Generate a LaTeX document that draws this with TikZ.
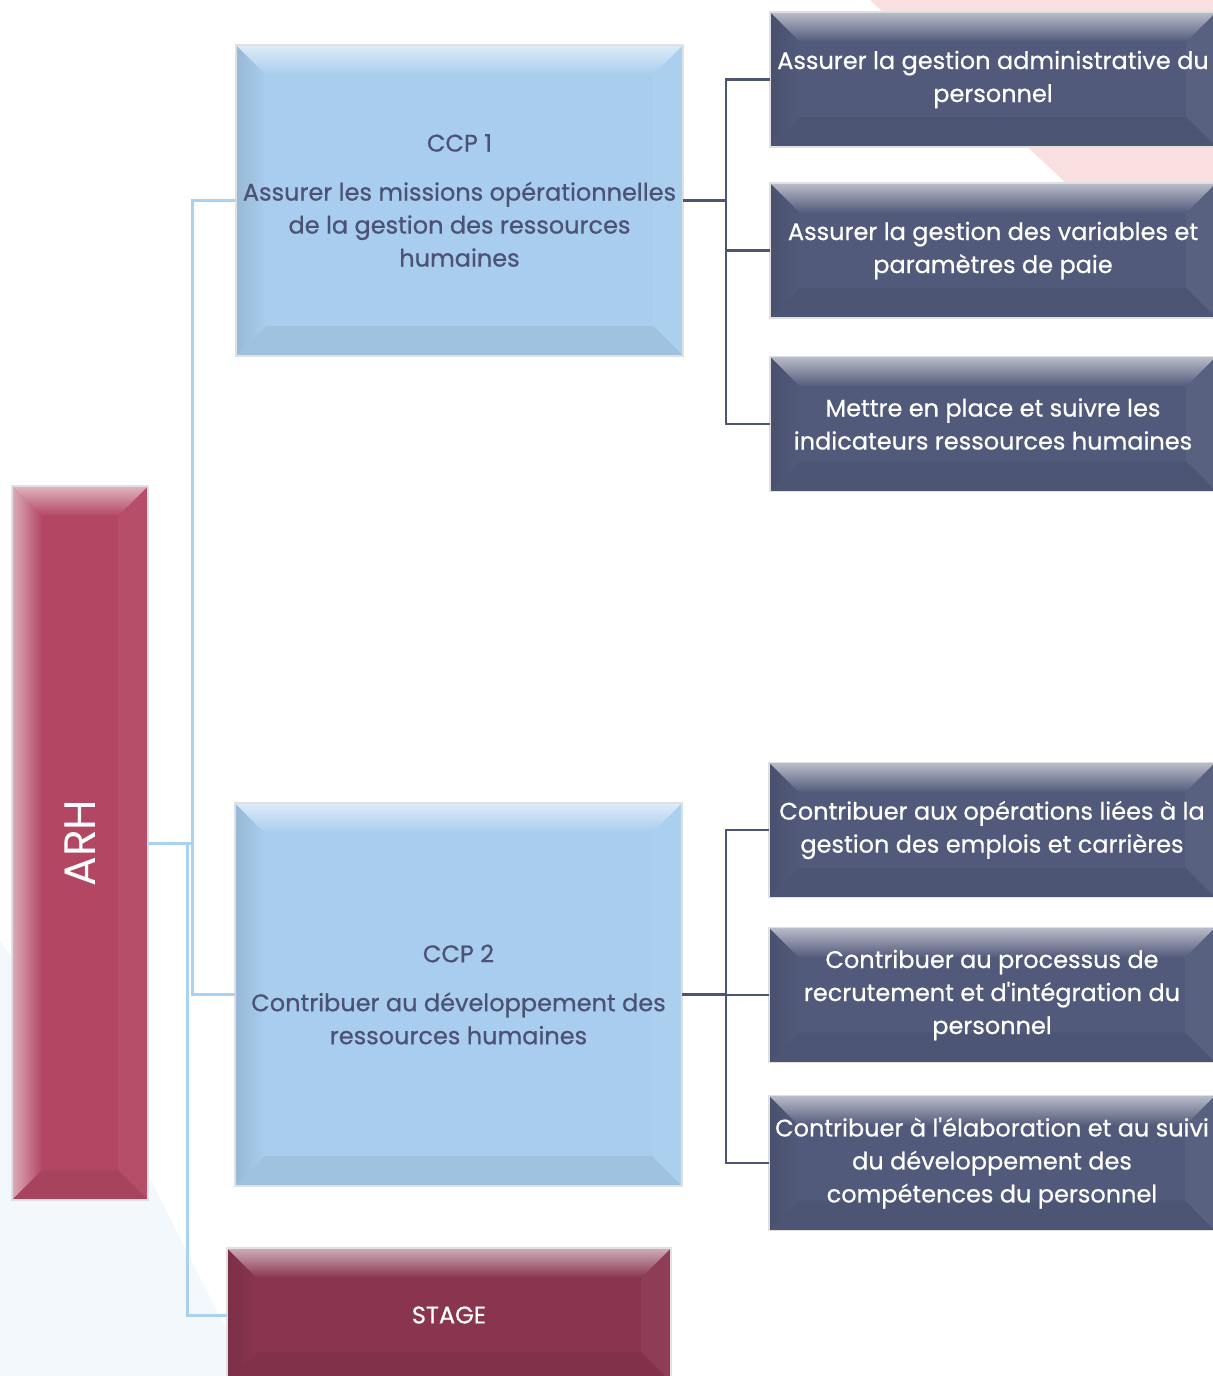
\documentclass[tikz,border=0pt]{standalone}
\usepackage{fontspec}
\setmainfont{Poppins}[FakeBold=0.6]
\usepackage{xcolor}
\usetikzlibrary{positioning}

\definecolor{arhred}{HTML}{B34763}
\definecolor{stagered}{HTML}{89354F}
\definecolor{ccpblue}{HTML}{A8CDEE}
\definecolor{taskslate}{HTML}{525A7B}
\definecolor{inkslate}{HTML}{4B5273}
\definecolor{linkblue}{HTML}{A9D1F1}
\definecolor{linkslate}{HTML}{4D5474}
\definecolor{bgpink}{HTML}{FADFE0}
\definecolor{bgblue}{HTML}{F3F8FC}

\newfontface\medface{Poppins}[FakeBold=0.6]

\tikzset{
  bevel left/.store in=\bevelleft,
  bevel/.style={fill=#1, draw=black!12, line width=0.6pt, inner sep=0pt, outer sep=0pt,
    bevel left=#1!90!black,
    path picture={
      \coordinate (bnw) at (path picture bounding box.north west);
      \coordinate (bne) at (path picture bounding box.north east);
      \coordinate (bsw) at (path picture bounding box.south west);
      \coordinate (bse) at (path picture bounding box.south east);
      \coordinate (inw) at ([shift={(15pt,-15pt)}]bnw);
      \coordinate (ine) at ([shift={(-15pt,-15pt)}]bne);
      \coordinate (isw) at ([shift={(15pt,15pt)}]bsw);
      \coordinate (ise) at ([shift={(-15pt,15pt)}]bse);
      \shade[left color=\bevelleft, right color=#1] (bnw) -- (inw) -- (isw) -- (bsw) -- cycle;
      \fill[#1!96!white] (bne) -- (ine) -- (ise) -- (bse) -- cycle;
      \fill[#1!94!black] (bsw) -- (isw) -- (ise) -- (bse) -- cycle;
      \shade[top color=#1!40!white, bottom color=#1] (bnw) -- (bne) -- (ine) -- (inw) -- cycle;
    }},
  ccpbox/.style={bevel=ccpblue, text=inkslate, align=center,
    minimum width=223.5pt, font=\fontsize{12}{16.5}\selectfont},
  taskbox/.style={bevel=taskslate, text=white, align=center,
    minimum width=223pt, minimum height=67.5pt, font=\fontsize{12}{16.5}\selectfont},
  bluelink/.style={draw=linkblue, line width=1.5pt},
  slatelink/.style={draw=linkslate, line width=1.4pt}
}

\begin{document}
\begin{tikzpicture}[x=0.5pt,y=-0.5pt]
  % Background
  \fill[white] (0,0) rectangle (1213,1376);
  \fill[bgpink] (870,0) -- (1213,0) -- (1213,320) -- cycle;
  \fill[bgblue] (0,940) -- (120,1120) -- (250,1376) -- (0,1376) -- cycle;
  \useasboundingbox (0,0) rectangle (1213,1376);

  % Main boxes
  \node[bevel=arhred, bevel left=arhred!45!white, minimum width=68pt, minimum height=357pt] (arh) at (80,843)
    {\rotatebox{90}{\color{white}\fontspec{Poppins}\fontsize{22}{26}\selectfont ARH}};
  \node[ccpbox, minimum height=155.5pt] (ccp1) at (459.5,200.5)
    {CCP 1\\[8pt]Assurer les missions opérationnelles\\de la gestion des ressources\\humaines};
  \node[ccpbox, minimum height=191.5pt] (ccp2) at (458.5,994.5)
    {CCP 2\\[8pt]Contribuer au développement des\\ressources humaines};
  \node[bevel=stagered, text=white, minimum width=222pt, minimum height=67pt,
    font=\fontsize{12}{16.5}\selectfont] (stage) at (449,1315) {STAGE};

  % Task boxes
  \foreach \n/\x/\y/\t in {
    r1/993/79.5/{Assurer la gestion administrative du\\personnel},
    r2/993/250.5/{Assurer la gestion des variables et\\paramètres de paie},
    r3/993/424/{Mettre en place et suivre les\\indicateurs ressources humaines},
    r4/992/830/{Contribuer aux opérations liées à la\\gestion des emplois et carrières},
    r5/992/995/{Contribuer au processus de\\recrutement et d\textquotesingle intégration du\\personnel},
    r6/992/1163/{Contribuer à l\textquotesingle élaboration et au suivi\\du développement des\\compétences du personnel}} {
    \node[taskbox] (\n) at (\x,\y) {\t};
  }

  % Links from ARH
  \coordinate (ja) at (192,843);
  \coordinate (js) at (187,843);
  \draw[bluelink] (arh.east) -- (ja) |- (ccp1.west);
  \draw[bluelink] (ja) |- (ccp2.west);
  \draw[bluelink] (js) |- (stage.west);

  % Links from CCP 1 and CCP 2
  \coordinate (k1) at (726,200.5);
  \coordinate (k2) at (726,994.5);
  \draw[slatelink] (ccp1.east) -- (k1);
  \draw[slatelink] (ccp2.east) -- (k2);
  \foreach \r in {r1,r2,r3} {
    \draw[slatelink] (k1) |- (\r.west);
  }
  \foreach \r in {r4,r5,r6} {
    \draw[slatelink] (k2) |- (\r.west);
  }
\end{tikzpicture}
\end{document}
